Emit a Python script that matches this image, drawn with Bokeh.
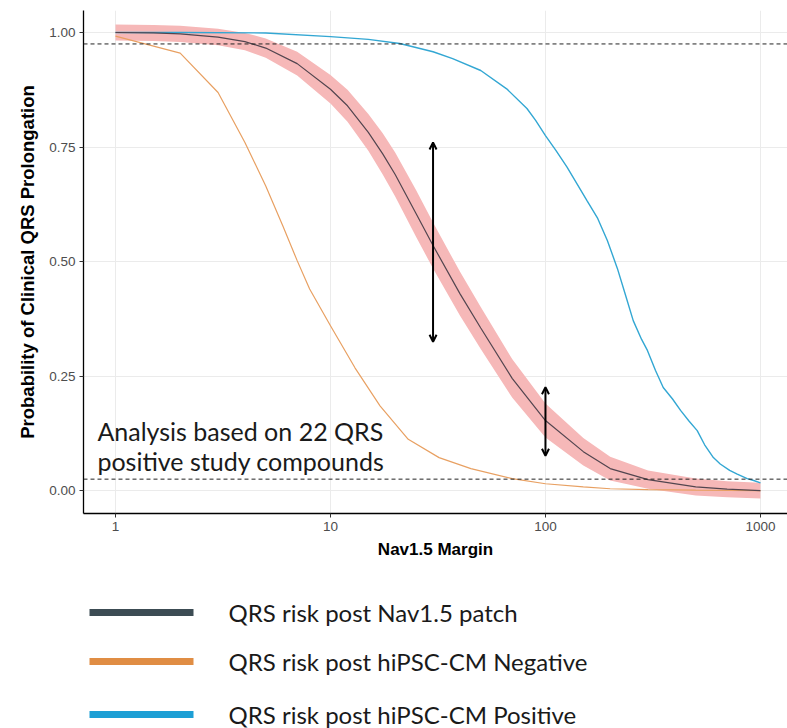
from bokeh.plotting import figure
from bokeh.models import (Range1d, FixedTicker, PrintfTickFormatter, Span, Arrow,
                          OpenHead, Label)
from bokeh.layouts import column
from bokeh.core.properties import value
from bokeh.embed import file_html
from bokeh.resources import INLINE

# QRS risk after the Nav1.5 patch assay, with its uncertainty band
x_patch = [1, 1.5, 2, 3, 4, 5, 7, 10, 12, 15, 17.5, 20, 25, 30, 40, 50, 70, 100, 150, 200,
           300, 500, 700, 1000]
y_patch = [1.000, 0.999, 0.997, 0.990, 0.980, 0.966, 0.932, 0.876, 0.840, 0.782, 0.735, 0.690,
           0.605, 0.535, 0.430, 0.355, 0.245, 0.153, 0.085, 0.048, 0.024, 0.008, 0.003, 0.000]
patch_lower = [0.9825, 0.9815, 0.9795, 0.972, 0.961, 0.945, 0.906, 0.845, 0.805, 0.742, 0.690,
               0.642, 0.554, 0.485, 0.382, 0.309, 0.203, 0.116, 0.055, 0.022, 0.004, -0.0105,
               -0.0145, -0.017]
patch_upper = [1.0175, 1.0165, 1.0145, 1.008, 0.999, 0.987, 0.958, 0.907, 0.875, 0.822, 0.780,
               0.738, 0.656, 0.585, 0.478, 0.401, 0.287, 0.190, 0.115, 0.074, 0.044, 0.0265,
               0.0205, 0.017]

# QRS risk after a negative hiPSC-CM result
x_neg = [1, 2, 3, 4, 5, 6, 7, 8, 10, 13, 17, 23, 32, 45, 70, 100, 150, 200, 300, 500, 1000]
y_neg = [0.992, 0.955, 0.869, 0.760, 0.665, 0.578, 0.502, 0.440, 0.360, 0.268, 0.185, 0.112,
         0.072, 0.048, 0.026, 0.015, 0.008, 0.004, 0.002, 0.001, 0.000]

# QRS risk after a positive hiPSC-CM result
x_pos = [1, 2, 5, 10, 15, 21, 30, 37, 50, 66, 82, 90, 100, 112, 126, 156, 175, 194, 216, 236,
         256, 280, 298, 325, 353, 390, 425, 465, 508, 550, 604, 650, 719, 780, 868, 930, 1000]
y_pos = [1.000, 1.000, 0.999, 0.991, 0.985, 0.976, 0.958, 0.943, 0.917, 0.877, 0.834, 0.808,
         0.775, 0.742, 0.706, 0.633, 0.594, 0.546, 0.485, 0.426, 0.371, 0.330, 0.306, 0.262,
         0.225, 0.200, 0.175, 0.152, 0.131, 0.100, 0.072, 0.058, 0.044, 0.036, 0.026, 0.022,
         0.017]

x_ticks = [1, 10, 100, 1000]
y_ticks = [0.0, 0.25, 0.5, 0.75, 1.0]
threshold_levels = [0.975, 0.025]

# double-headed arrows: (margin, low, high)
arrows = [(30, 0.325, 0.76), (100, 0.076, 0.2255)]

legend_labels = ["QRS risk post Nav1.5 patch",
                 "QRS risk post hiPSC-CM Negative",
                 "QRS risk post hiPSC-CM Positive"]
legend_colors = ["#3c4c54", "#e08d44", "#1d9fd5"]

AXIS_FONT = "Liberation Sans"
NOTE_FONT = "Lato"
LEFT, RIGHT = 83, 787

p = figure(width=787, height=565, x_axis_type="log",
           x_range=Range1d(0.71, 1336), y_range=Range1d(-0.05, 1.048),
           output_backend="svg", toolbar_location=None,
           min_border_left=LEFT, min_border_right=0, min_border_top=10, min_border_bottom=52)
p.outline_line_color = None
p.background_fill_color = "white"

p.xaxis.ticker = FixedTicker(ticks=x_ticks)
p.xaxis.formatter = PrintfTickFormatter(format="%d")
p.yaxis.ticker = FixedTicker(ticks=y_ticks)
p.yaxis.formatter = PrintfTickFormatter(format="%.2f")

for ax in (p.xaxis, p.yaxis):
    ax.axis_line_color = "black"
    ax.axis_line_width = 1.3
    ax.major_tick_line_color = "#333333"
    ax.major_tick_out = 4
    ax.major_tick_in = 0
    ax.minor_tick_line_color = None
    ax.major_label_text_font = AXIS_FONT
    ax.major_label_text_font_size = "13.5px"
    ax.major_label_text_color = "#4d4d4d"
    ax.major_label_standoff = 4
    ax.axis_label_text_font = AXIS_FONT
    ax.axis_label_text_font_style = "bold"
    ax.axis_label_text_color = "black"

p.xaxis.axis_label = "Nav1.5 Margin"
p.xaxis.axis_label_text_font_size = "17px"
p.xaxis.axis_label_standoff = 6
p.yaxis.axis_label = "Probability of Clinical QRS Prolongation"
p.yaxis.axis_label_text_font_size = "18.5px"
p.yaxis.axis_label_standoff = 8

p.xgrid.grid_line_color = "#ebebeb"
p.ygrid.grid_line_color = "#ebebeb"

# confidence band and curves
p.varea(x=x_patch, y1=patch_lower, y2=patch_upper, fill_color="#f6b8b8")
p.line(x_neg, y_neg, line_color="#e8a062", line_width=1.2)
p.line(x_pos, y_pos, line_color="#33a7d3", line_width=1.4)
p.line(x_patch, y_patch, line_color="#52454f", line_width=1.2)

for lvl in threshold_levels:
    p.add_layout(Span(location=lvl, dimension="width", line_color="#222222",
                      line_width=1, line_dash="4 3"))

for xm, lo, hi in arrows:
    p.add_layout(Arrow(x_start=xm, y_start=lo, x_end=xm, y_end=hi,
                       line_color="black", line_width=2,
                       start=OpenHead(size=7, line_width=2, line_color="black"),
                       end=OpenHead(size=7, line_width=2, line_color="black")))

note_lines = ["Analysis based on 22 QRS", "positive study compounds"]
for i, txt in enumerate(note_lines):
    p.add_layout(Label(x=0.824, y=0.131 - 0.066 * i, text=txt,
                       text_font=NOTE_FONT, text_font_size="25px",
                       text_color="#1a1a1a", text_baseline="alphabetic"))

# legend panel underneath the chart; its frame lines up with the chart frame,
# so the x range is expressed in page pixels
leg = figure(width=787, height=163, x_range=Range1d(LEFT, RIGHT), y_range=Range1d(163, 0),
             output_backend="svg", toolbar_location=None,
             min_border_left=LEFT, min_border_right=0,
             min_border_top=0, min_border_bottom=0)
leg.outline_line_color = None
leg.axis.visible = False
leg.grid.visible = False

row_y = [47, 96, 149]
leg.segment(x0=[89] * 3, y0=row_y, x1=[193] * 3, y1=row_y,
            line_color=legend_colors, line_width=7)
leg.text(x=[228] * 3, y=row_y, text=legend_labels,
         text_font=value(NOTE_FONT), text_font_size="24px",
         text_color="#1a1a1a", text_baseline="middle", text_align="left")

layout = column(p, leg, spacing=0)
open("out.html", "w").write(file_html(layout, INLINE))
